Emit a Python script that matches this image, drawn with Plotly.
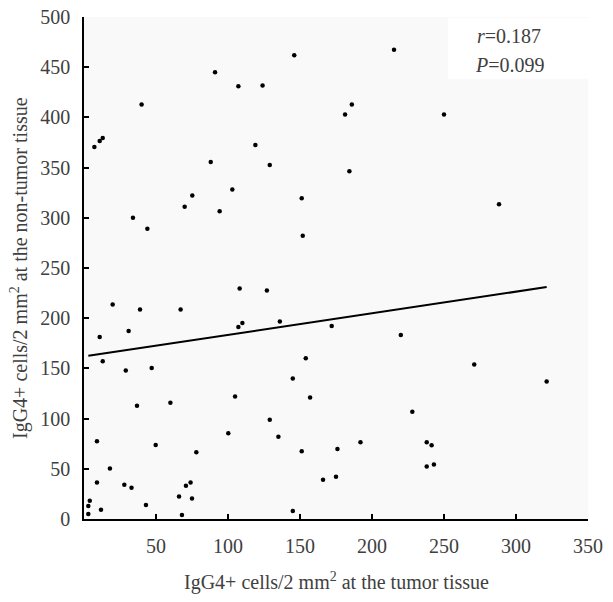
import plotly.graph_objects as go

# IgG4+ cells/2 mm2: tumor tissue (x) vs non-tumor tissue (y)
tumor = [7.2, 10.9, 13, 40, 34, 44, 69.9, 75.2, 88, 91, 94.2, 103, 107.2, 119, 124, 129, 146,
         215.3, 186, 181.3, 250, 184.3, 151.2, 288.2, 151.9,
         4, 3, 3, 11.8, 9, 9, 10.9, 13, 19.9, 18, 28, 33, 29, 31, 36.8, 38.9, 43, 47, 49.8,
         60, 66, 67.1, 68, 70.8, 74, 75, 78, 100.2, 104.9, 107.2, 108.1, 110, 127, 129, 135,
         136, 145, 145,
         172, 220, 154, 271, 321.3, 157, 228, 192, 151.2, 176, 238, 241.4, 238, 243, 166, 175]
nontumor = [370.6, 376.6, 379.5, 412.9, 300, 289, 311, 322.3, 355.6, 445, 306.4, 328.3, 431, 372.6, 431.8, 352.6, 462,
            467.4, 412.9, 402.9, 402.9, 346.3, 319.4, 313.4, 282.1,
            18.3, 13, 5, 9.3, 77.5, 36.3, 181.3, 157, 213.6, 50.2, 34.2, 31.2, 148, 187.3, 112.8, 208.6, 14, 150.4, 73.6,
            115.8, 22.3, 208.6, 4, 33.2, 36.3, 20.3, 66.5, 85.5, 122, 191.3, 229.5, 195.3, 227.5, 98.8, 81.8,
            196.6, 140, 8,
            192.3, 183.3, 160, 154, 137, 121, 106.8, 76.5, 67.6, 69.6, 76.5, 73.5, 52.2, 54.2, 39.2, 42.2]

# regression line end points
fit_x = [3, 321.3]
fit_y = [162.5, 231]

x_ticks = [50, 100, 150, 200, 250, 300, 350]
y_ticks = [0, 50, 100, 150, 200, 250, 300, 350, 400, 450, 500]

FONT = "Liberation Serif"
TXT = "#404040"

fig = go.Figure()
fig.add_trace(go.Scatter(
    x=tumor, y=nontumor, mode="markers",
    marker=dict(color="black", size=4.5),
    showlegend=False, hoverinfo="skip"
))
fig.add_trace(go.Scatter(
    x=fit_x, y=fit_y, mode="lines",
    line=dict(color="black", width=2),
    showlegend=False, hoverinfo="skip"
))

# automargin off: keep the plot area fixed even though "500" pokes above the top edge
axis_common = dict(
    showgrid=False, zeroline=False, showline=True,
    linecolor="black", linewidth=1.5,
    ticks="inside", ticklen=5, tickwidth=1.5, tickcolor="black",
    ticklabeloverflow="allow", automargin=False,
    tickfont=dict(family=FONT, size=20, color=TXT),
)
fig.update_xaxes(range=[0, 350], tickvals=x_ticks, ticktext=[str(v) for v in x_ticks],
                 ticklabelstandoff=8, **axis_common)
fig.update_yaxes(range=[0, 500], tickvals=y_ticks, ticktext=[str(v) for v in y_ticks],
                 ticklabelstandoff=8, **axis_common)

fig.add_annotation(text="IgG4+ cells/2 mm<sup>2</sup> at the tumor tissue",
                   xref="paper", yref="paper", x=0.5, y=-0.124, showarrow=False,
                   xanchor="center", yanchor="middle",
                   font=dict(family=FONT, size=20, color=TXT))
fig.add_annotation(text="IgG4+ cells/2 mm<sup>2</sup> at the non-tumor tissue",
                   xref="paper", yref="paper", x=-0.129, y=0.5, showarrow=False,
                   textangle=-90, xanchor="center", yanchor="middle",
                   font=dict(family=FONT, size=20, color=TXT))

fig.add_shape(type="rect", xref="paper", yref="paper", x0=0.722, x1=1.0, y0=0.877, y1=0.998,
              fillcolor="white", line=dict(width=0), layer="below")
fig.add_annotation(text="<i>r</i>=0.187", x=271.5, y=481, showarrow=False,
                   xanchor="left", yanchor="middle",
                   font=dict(family=FONT, size=20, color=TXT))
fig.add_annotation(text="<i>P</i>=0.099", x=270, y=452, showarrow=False,
                   xanchor="left", yanchor="middle",
                   font=dict(family=FONT, size=20, color=TXT))

fig.update_layout(
    width=597, height=586,
    margin=dict(l=76, r=17, t=9, b=75),
    paper_bgcolor="white", plot_bgcolor="#f9f9f9",
)

fig.write_html("out.html")
